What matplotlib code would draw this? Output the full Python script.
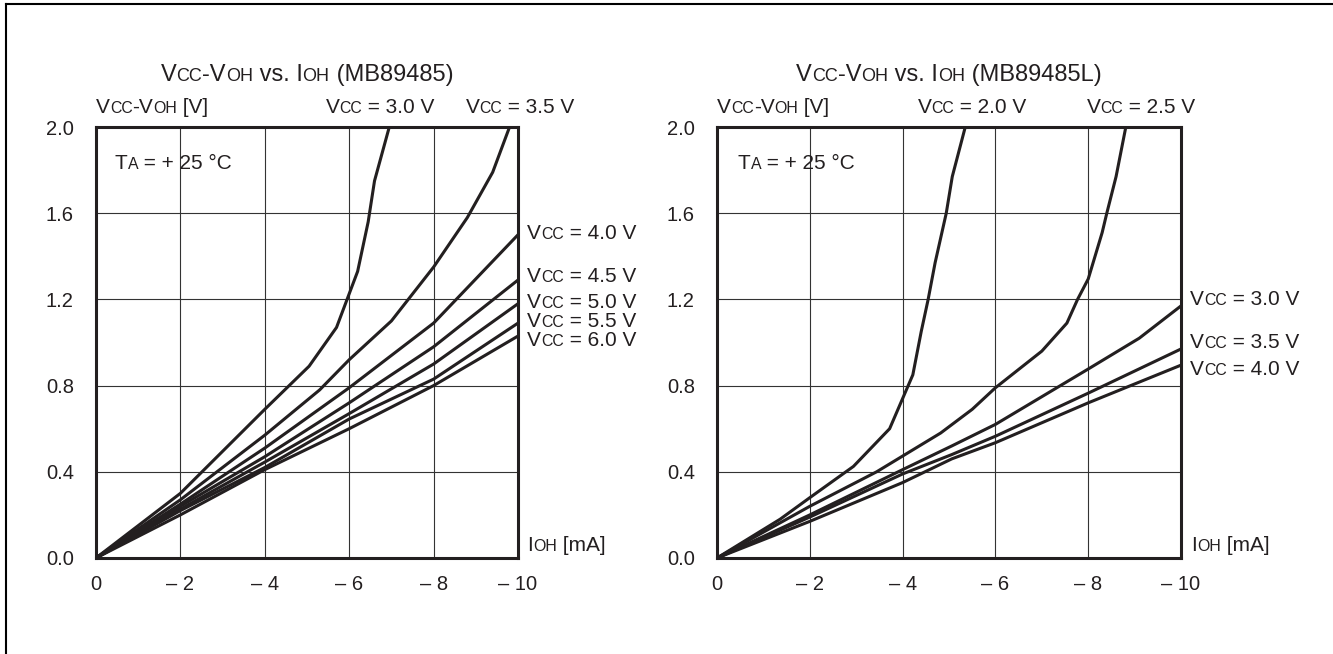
import matplotlib
matplotlib.use("Agg")
import matplotlib.pyplot as plt
from matplotlib.lines import Line2D
from matplotlib.offsetbox import TextArea, HPacker, AnnotationBbox

FONT = "Liberation Sans"
INK = "#231f20"
BIG = 15
SMALL = 11.4
TBIG = 17
TSMALL = 13

# MB89485: Vcc-Voh [V] vs Ioh [mA]
ioh_30 = [0, -2, -4, -5.05, -5.7, -5.95, -6.2, -6.45, -6.6, -6.95]
dv_30 = [0, 0.30, 0.69, 0.89, 1.07, 1.20, 1.33, 1.56, 1.75, 2.0]
ioh_35 = [0, -2, -4, -5.3, -6, -7, -8, -8.8, -9.4, -9.8]
dv_35 = [0, 0.27, 0.57, 0.78, 0.92, 1.10, 1.35, 1.58, 1.79, 2.0]
ioh_std = [0, -2, -4, -6, -8, -10]
dv_40 = [0, 0.25, 0.51, 0.79, 1.09, 1.50]
dv_45 = [0, 0.24, 0.47, 0.72, 0.98, 1.29]
dv_50 = [0, 0.227, 0.445, 0.67, 0.90, 1.18]
dv_55 = [0, 0.22, 0.42, 0.645, 0.83, 1.09]
dv_60 = [0, 0.20, 0.41, 0.60, 0.80, 1.03]

# MB89485L
ioh_l20 = [0, -1.36, -2, -2.94, -3.72, -4.0, -4.22, -4.4, -4.55, -4.7, -4.94, -5.07, -5.35]
dv_l20 = [0, 0.18, 0.28, 0.425, 0.60, 0.74, 0.85, 1.05, 1.20, 1.37, 1.60, 1.77, 2.0]
ioh_l25 = [0, -2, -3.44, -4.82, -5.5, -6, -7.0, -7.54, -7.77, -8.0, -8.3, -8.4, -8.6, -8.81]
dv_l25 = [0, 0.24, 0.40, 0.58, 0.69, 0.79, 0.96, 1.09, 1.20, 1.295, 1.51, 1.60, 1.77, 2.0]
ioh_l30 = [0, -2, -4, -5.06, -6, -8, -9.1, -10]
dv_l30 = [0, 0.20, 0.41, 0.52, 0.62, 0.877, 1.02, 1.17]
ioh_l = [0, -2, -4, -5.06, -6, -8, -10]
dv_l35 = [0, 0.19, 0.39, 0.48, 0.565, 0.765, 0.97]
dv_l40 = [0, 0.17, 0.35, 0.46, 0.535, 0.72, 0.895]

x_ticks = [0, -2, -4, -6, -8, -10]
x_labels = ["0", "\u2013 2", "\u2013 4", "\u2013 6", "\u2013 8", "\u2013 10"]
y_ticks = [0.0, 0.4, 0.8, 1.2, 1.6, 2.0]
y_labels = ["0.0", "0.4", "0.8", "1.2", "1.6", "2.0"]


def rich(ax, parts, xy, coords, align):
    kids = [TextArea(t, textprops=dict(size=s, family=FONT, color=INK)) for t, s in parts]
    box = HPacker(children=kids, align="baseline", pad=0, sep=0)
    ab = AnnotationBbox(box, xy, xycoords=coords, box_alignment=align,
                        frameon=False, pad=0, annotation_clip=False)
    ax.add_artist(ab)


def vcc(value):
    return [("V", BIG), ("CC", SMALL), (f" = {value} V", BIG)]


def setup(ax, title):
    ax.set_xlim(0, -10)
    ax.set_ylim(0, 2.0)
    ax.set_xticks(x_ticks, x_labels)
    ax.set_yticks(y_ticks, y_labels)
    ax.tick_params(axis="x", length=0, labelsize=14.5, colors=INK, pad=12)
    ax.tick_params(axis="y", length=0, labelsize=14.5, colors=INK, pad=16)
    for lab in ax.get_xticklabels() + ax.get_yticklabels():
        lab.set_family(FONT)
    ax.grid(True, color="#333333", linewidth=0.8)
    for sp in ax.spines.values():
        sp.set_linewidth(2.2)
        sp.set_color(INK)
    rich(ax, [("V", TBIG), ("CC", TSMALL), ("-V", TBIG), ("OH", TSMALL), (" vs. I", TBIG),
              ("OH", TSMALL), (f" ({title})", TBIG)], (0.5, 1.12), "axes fraction", (0.5, 0.5))
    rich(ax, [("V", BIG), ("CC", SMALL), ("-V", BIG), ("OH", SMALL), (" [V]", BIG)],
         (0.0, 1.045), "axes fraction", (0.0, 0.5))
    rich(ax, [("T", BIG), ("A", SMALL), (" = + 25 \u00b0C", BIG)],
         (0.045, 0.916), "axes fraction", (0.0, 0.5))
    rich(ax, [("I", BIG), ("OH", SMALL), (" [mA]", BIG)],
         (1.022, 0.03), "axes fraction", (0.0, 0.5))


fig = plt.figure(figsize=(13.33, 6.54), dpi=100)
ax1 = fig.add_axes([0.0720, 0.1468, 0.3166, 0.659])
ax2 = fig.add_axes([0.5379, 0.1468, 0.3481, 0.659])

lw = 2.2
for xs, ys in [(ioh_30, dv_30), (ioh_35, dv_35), (ioh_std, dv_40), (ioh_std, dv_45),
               (ioh_std, dv_50), (ioh_std, dv_55), (ioh_std, dv_60)]:
    ax1.plot(xs, ys, color=INK, linewidth=lw, solid_joinstyle="miter")
for xs, ys in [(ioh_l20, dv_l20), (ioh_l25, dv_l25), (ioh_l30, dv_l30),
               (ioh_l, dv_l35), (ioh_l, dv_l40)]:
    ax2.plot(xs, ys, color=INK, linewidth=lw, solid_joinstyle="miter")

setup(ax1, "MB89485")
setup(ax2, "MB89485L")

# top labels
rich(ax1, vcc("3.0"), (-6.73, 1.045), ("data", "axes fraction"), (0.5, 0.5))
rich(ax1, vcc("3.5"), (-10.05, 1.045), ("data", "axes fraction"), (0.5, 0.5))
rich(ax2, vcc("2.0"), (-5.5, 1.045), ("data", "axes fraction"), (0.5, 0.5))
rich(ax2, vcc("2.5"), (-9.14, 1.045), ("data", "axes fraction"), (0.5, 0.5))

# right side labels
for val, yv in [("4.0", 1.505), ("4.5", 1.305), ("5.0", 1.185), ("5.5", 1.097), ("6.0", 1.01)]:
    rich(ax1, vcc(val), (1.022, yv), ("axes fraction", "data"), (0.0, 0.5))
for val, yv in [("3.0", 1.20), ("3.5", 1.0), ("4.0", 0.875)]:
    rich(ax2, vcc(val), (1.02, yv), ("axes fraction", "data"), (0.0, 0.5))

# partial frame of the page (top and left edges)
fig.add_artist(Line2D([5.5 / 1333, 1.0], [1 - 3.5 / 654] * 2, transform=fig.transFigure,
                      color="black", linewidth=1.5))
fig.add_artist(Line2D([5.5 / 1333] * 2, [0.0, 1 - 3.5 / 654], transform=fig.transFigure,
                      color="black", linewidth=1.5))

fig.savefig("out.png", dpi=100)
